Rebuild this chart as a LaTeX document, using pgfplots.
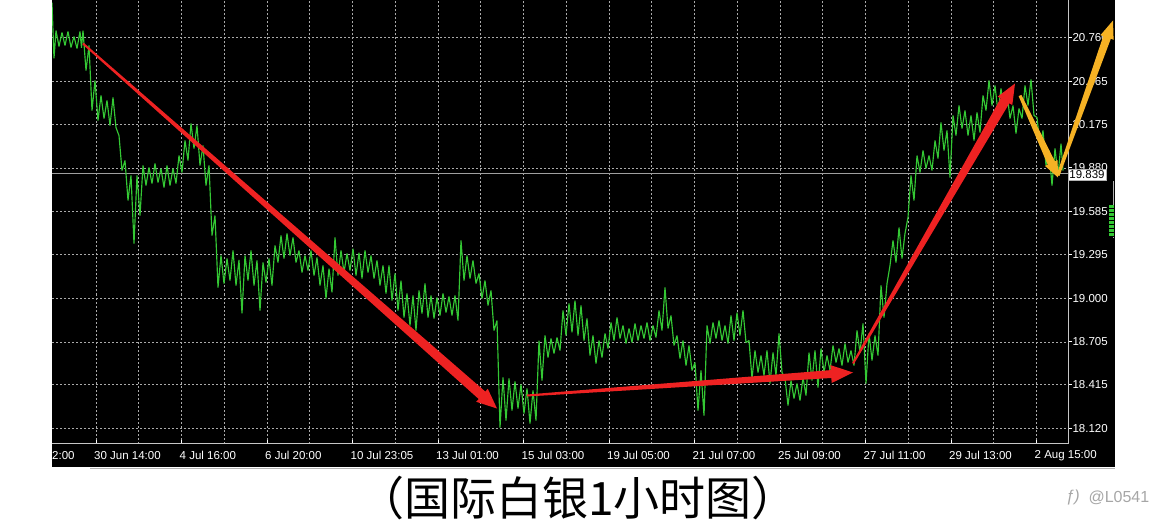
\documentclass[border=0pt]{standalone}
\usepackage{pgfplots}
\pgfplotsset{compat=1.18}
\usepackage{fontspec}
\setmainfont{Liberation Sans}
\newfontfamily\cjk{Noto Sans CJK SC}
\definecolor{mtgreen}{RGB}{52,200,52}
\definecolor{arred}{RGB}{238,34,34}
\definecolor{aryel}{RGB}{246,178,36}
\definecolor{gridgray}{RGB}{170,170,170}
\pgfplotstableread{
x y
52 20.996
54 20.619
56 20.807
59 20.700
62 20.794
65 20.706
68 20.801
71 20.693
74 20.767
77 20.686
80 20.801
81.5 20.690
83 20.807
86 20.537
89 20.706
92 20.267
95 20.470
98 20.200
101 20.369
104 20.213
107 20.335
110 20.166
113 20.355
116 20.152
119 20.098
122 19.862
125 19.930
128 19.660
131 19.829
134 19.369
137 19.829
140 19.558
143 19.896
146 19.761
149 19.883
152 19.774
155 19.909
158 19.781
161 19.876
164 19.747
167 19.896
170 19.761
173 19.876
176 19.774
179 19.963
182 19.849
185 20.065
188 19.930
191 20.180
194 20.011
197 20.166
200 19.896
203 20.031
206 19.761
209 19.896
212 19.423
215 19.558
218 19.072
221 19.288
224 19.099
227 19.268
230 19.119
233 19.322
236 19.086
239 19.258
242 18.897
245 19.288
248 19.119
251 19.322
254 19.086
257 19.255
260 18.917
263 19.241
266 19.106
269 19.268
272 19.086
275 19.356
278 19.241
281 19.423
284 19.268
287 19.437
290 19.288
293 19.410
296 19.241
299 19.322
302 19.174
305 19.288
308 19.187
311 19.322
314 19.153
317 19.275
320 19.086
323 19.221
326 18.998
329 19.200
332 19.039
335 19.410
338 19.153
341 19.322
344 19.174
347 19.302
350 19.187
353 19.335
356 19.153
359 19.308
362 19.133
365 19.322
368 19.174
371 19.288
374 19.133
377 19.255
380 19.086
383 19.221
386 19.032
389 19.221
392 18.984
395 19.167
398 18.917
401 19.119
404 18.870
407 19.032
410 18.816
413 19.018
416 18.782
419 19.052
422 18.897
425 19.099
428 18.870
431 19.018
434 18.863
437 19.005
440 18.883
443 19.032
446 18.903
449 19.011
452 18.883
455 19.018
458 18.849
461 19.390
464 19.119
467 19.288
470 19.133
473 19.255
476 19.099
479 19.167
482 18.998
485 19.119
488 18.951
491 19.052
494 18.782
497 18.849
500 18.127
503 18.465
506 18.174
509 18.458
512 18.242
515 18.438
518 18.255
521 18.417
524 18.221
527 18.390
530 18.154
533 18.377
536 18.174
539 18.714
542 18.444
545 18.748
548 18.599
551 18.728
554 18.626
557 18.735
560 18.647
563 18.917
566 18.748
569 18.964
572 18.769
575 18.984
578 18.748
581 18.951
584 18.714
587 18.863
590 18.613
593 18.748
596 18.559
599 18.714
602 18.599
605 18.762
608 18.660
611 18.836
614 18.714
617 18.870
620 18.728
623 18.816
626 18.694
629 18.796
632 18.701
635 18.829
638 18.714
641 18.816
644 18.728
647 18.836
650 18.714
653 18.816
656 18.735
659 18.917
662 18.782
665 19.072
668 18.796
671 18.883
674 18.681
677 18.748
680 18.593
683 18.714
686 18.545
689 18.681
692 18.512
695 18.566
698 18.242
701 18.512
704 18.208
707 18.816
710 18.694
713 18.836
716 18.728
719 18.849
722 18.714
725 18.816
728 18.694
731 18.883
734 18.714
737 18.903
740 18.748
743 18.917
746 18.701
749 18.714
752 18.458
755 18.647
758 18.498
761 18.613
764 18.478
767 18.647
770 18.424
773 18.633
776 18.478
779 18.762
782 18.498
785 18.458
788 18.275
791 18.444
794 18.323
797 18.424
800 18.309
803 18.465
806 18.343
809 18.633
812 18.444
815 18.647
818 18.397
821 18.660
824 18.498
827 18.613
830 18.512
833 18.681
836 18.566
839 18.660
842 18.545
845 18.694
848 18.566
851 18.647
854 18.545
857 18.782
860 18.633
863 18.829
866 18.424
869 18.762
872 18.579
875 18.748
878 18.613
881 19.086
884 18.870
887 19.099
890 19.221
893 19.390
896 19.241
899 19.477
902 19.268
905 19.437
908 19.545
911 19.829
914 19.660
917 19.963
920 19.849
923 19.997
926 19.876
929 19.963
932 19.862
935 20.065
938 19.943
941 20.186
944 19.997
947 20.132
950 19.815
953 20.234
956 20.098
959 20.301
962 20.146
965 20.267
968 20.098
971 20.234
974 20.065
977 20.254
980 20.119
983 20.369
986 20.267
989 20.470
992 20.301
995 20.436
998 20.254
1001 20.416
1004 20.267
1007 20.389
1010 20.213
1013 20.301
1016 20.112
1019 20.281
1022 20.213
1025 20.436
1028 20.301
1031 20.477
1034 20.234
1037 20.220
1040 20.031
1043 20.132
1046 19.896
1049 19.997
1052 19.761
1055 20.011
1058 19.829
1061 20.044
1063 19.862
}\silver
\begin{document}
\begin{tikzpicture}
\begin{scope}[shift={(-52pt,443pt)}, x=1pt, y=-1pt]
  \useasboundingbox (0,0) rectangle (1170,530);
  \fill[black] (52,0) rectangle (1115,466);
  \draw[gray!60, line width=1pt] (90,467.5) -- (1115,467.5);
\end{scope}
\begin{axis}[
  at={(0pt,0pt)}, anchor=south west,
  scale only axis, width=1016pt, height=443pt,
  xmin=52, xmax=1068, ymin=18.019, ymax=21.010,
  axis x line*=bottom, axis y line*=right,
  axis line style={draw=gray!45, line width=1pt},
  xtick={96,181.5,267,352.5,438,523.5,609,694.5,780,865.5,951,1036.5},
  xticklabels={30 Jun 14:00,4 Jul 16:00,6 Jul 20:00,10 Jul 23:05,13 Jul 01:00,15 Jul 03:00,19 Jul 05:00,21 Jul 07:00,25 Jul 09:00,27 Jul 11:00,29 Jul 13:00,2 Aug 15:00},
  minor xtick={138.75,224.25,309.75,395.25,480.75,566.25,651.75,737.25,822.75,908.25,993.75},
  ytick={18.12,18.415,18.705,19,19.295,19.585,19.88,20.175,20.465,20.76},
  yticklabels={18.120,18.415,18.705,19.000,19.295,19.585,19.880,20.175,20.465,20.760},
  grid=both,
  major grid style={draw=gridgray, dash pattern=on 2pt off 2pt, line width=0.7pt},
  minor grid style={draw=gridgray, dash pattern=on 2pt off 2pt, line width=0.7pt},
  tick style={draw=white, line width=0.8pt},
  major tick length=4pt, minor tick length=0pt,
  xtick align=inside, ytick align=outside,
  xticklabel style={anchor=west, xshift=-2pt, yshift=-12pt, inner sep=0pt, text=white, font=\fontsize{11.5}{12}\selectfont},
  yticklabel style={anchor=west, xshift=-3pt, text=white, font=\fontsize{11.5}{12}\selectfont},
  /pgf/number format/assume math mode=true,
  clip=true,
]
\addplot[gray!75, line width=1pt] coordinates {(52,19.839) (1068,19.839)};
\addplot[mtgreen, line width=1.15pt, line join=bevel] table[x=x,y=y] {\silver};
\end{axis}
\begin{scope}[shift={(-52pt,443pt)}, x=1pt, y=-1pt]
  % small green indicator at right
  \draw[gray!60, line width=0.8pt] (1113,181) -- (1113,238);
  \fill[mtgreen] (1109,205) rectangle (1114,237);
  \foreach \yy in {208,212,...,236} {\draw[black, line width=0.5pt] (1109,\yy) -- (1114,\yy);}
  % current price box
  \node[fill=white, draw=gray!60, inner sep=1.2pt, anchor=west, text=black,
        font=\fontsize{11.5}{12}\selectfont] at (1068,174) {19.839};
  % left cut x label
  \node[anchor=west, inner sep=0pt, text=white, font=\fontsize{11.5}{12}\selectfont] at (52,455) {2:00};
  % arrows
  \fill[arred] (82.34,43.75) -- (478.7,398.5) -- (476.2,401.3) -- (497,408) -- (487.8,388.3) -- (485.3,391.05) -- (83.66,42.25) -- cycle;
  \fill[arred] (527.07,396) -- (831.3,377.5) -- (831.7,382.5) -- (853,372) -- (830.4,364.6) -- (830.8,369.6) -- (526.93,394) -- cycle;
  \fill[arred] (853.87,363.5) -- (1009.3,102.8) -- (1012.3,104.5) -- (1015,83) -- (997.7,96.1) -- (1000.7,97.8) -- (852.13,362.5) -- cycle;
  \fill[aryel] (1018.6,95.6) -- (1047.7,164.2) -- (1045.0,165.4) -- (1058,177) -- (1057.6,159.6) -- (1054.9,160.8) -- (1021.4,94.4) -- cycle;
  \fill[aryel] (1059.4,175.5) -- (1110.8,38.3) -- (1113.6,39.3) -- (1113,20) -- (1100.4,34.7) -- (1103.2,35.7) -- (1056.6,174.5) -- cycle;
  % caption
  \node[font=\cjk\fontsize{46}{50}\selectfont, text=black] at (578,498) {（国际白银1小时图）};
  % watermark
  \node[anchor=west, text=gray!70, font=\fontsize{16}{18}\selectfont] at (1085,497) {@L0541};
  \node[anchor=west, text=gray!70, font=\itshape\fontsize{16}{18}\selectfont] at (1062,497) {ƒ)};
\end{scope}
\end{tikzpicture}
\end{document}
